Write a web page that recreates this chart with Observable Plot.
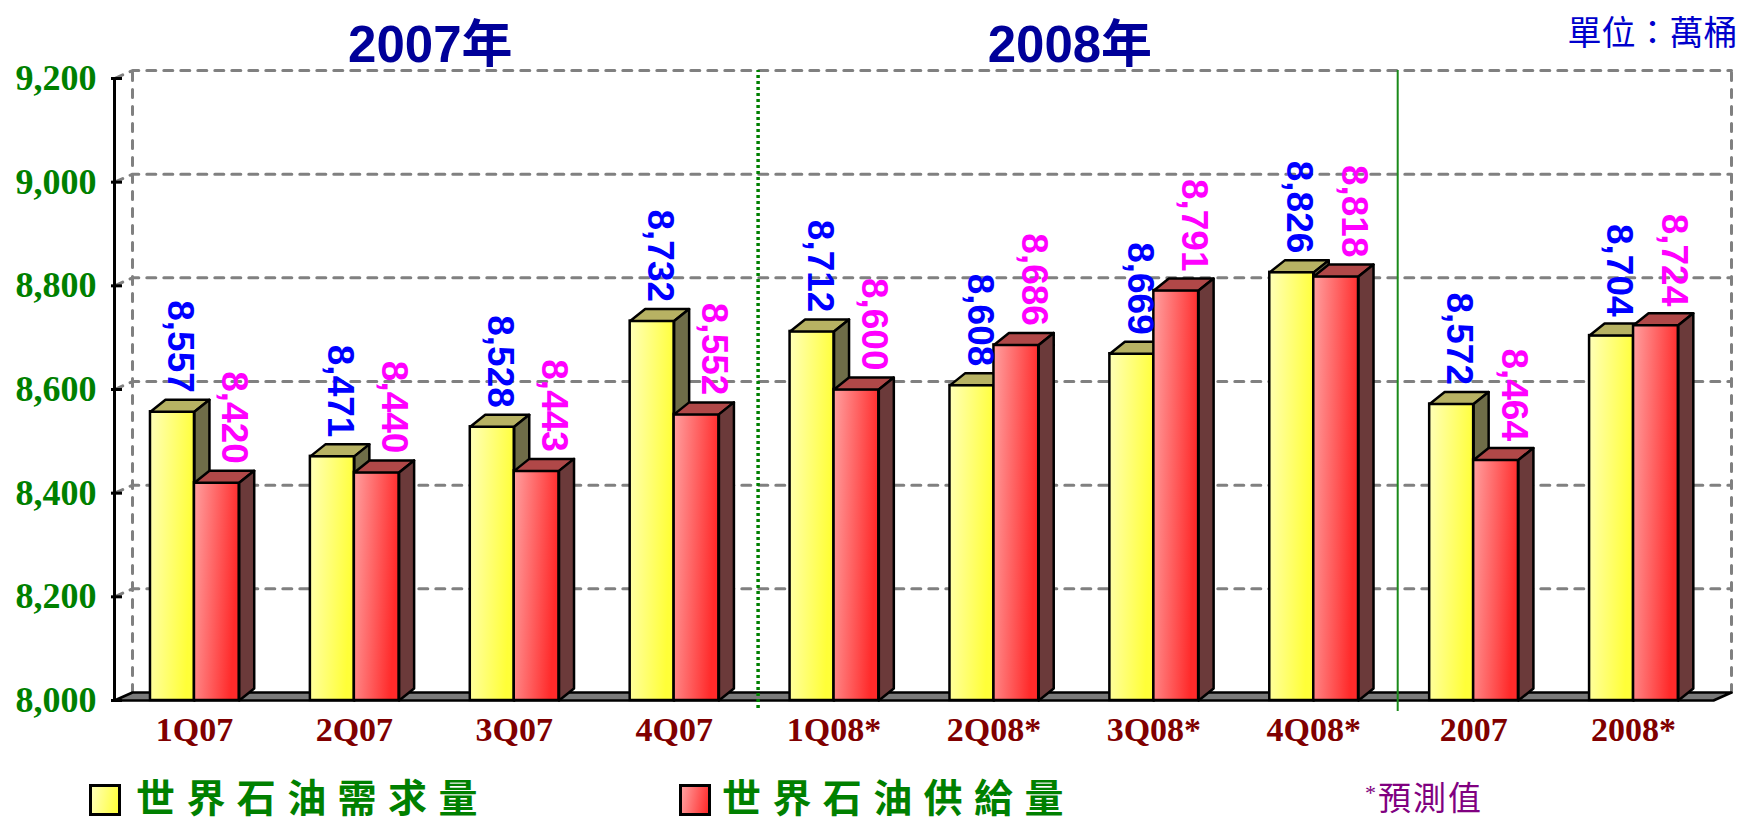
<!DOCTYPE html>
<html><head><meta charset="utf-8">
<script src="https://cdn.jsdelivr.net/npm/d3@7"></script>
<script src="https://cdn.jsdelivr.net/npm/@observablehq/plot@0.6"></script>
<style>
html,body{margin:0;padding:0;background:#fff;overflow:hidden;}
#wrap{position:relative;width:1743px;height:825px;}
#wrap svg{display:block;}
.leg{position:absolute;font-family:"Noto Sans CJK TC";white-space:nowrap;line-height:1;}
.sw{position:absolute;border:3px solid #000;box-sizing:border-box;}
</style></head><body><div id="wrap"></div>
<script>
// ---- data ----
const categories = ["1Q07","2Q07","3Q07","4Q07","1Q08*","2Q08*","3Q08*","4Q08*","2007","2008*"];
const demand = [8557,8471,8528,8732,8712,8608,8669,8826,8572,8704];
const supply = [8420,8440,8443,8552,8600,8686,8791,8818,8464,8724];
const yTicks = [8000,8200,8400,8600,8800,9000,9200];
const yearTitles = ["2007年","2008年"];
const yearSpans = [[0,4],[4,8]];
const seriesNames = ["世界石油需求量","世界石油供給量"];
const unitText = "單位：萬桶";
const noteText = "預測值";
const dividerAt = [4, 8];

// ---- layout ----
const W = 1743, H = 770, mL = 114, mR = 30, mT = 78, mB = 70;
const yMin = 8000, yMax = 9200;
const pxX = (W - mL - mR) / categories.length;
const pxY = (H - mT - mB) / (yMax - yMin);
const bdx = 15 / pxX, bdy = 12 / pxY;   // bar depth
const wdx = 18 / pxX, wdy = 8 / pxY;    // wall depth
const fmt = d3.format(",");

const yBars = demand.map((v, i) => ({i, x1: i + 0.225, x2: i + 0.5, v}));
const rBars = supply.map((v, i) => ({i, x1: i + 0.5, x2: i + 0.78, v}));

function polys(bars, kind) {
  const out = [];
  bars.forEach((b, k) => {
    const pts = kind === "top"
      ? [[b.x1, b.v], [b.x2, b.v], [b.x2 + bdx, b.v + bdy], [b.x1 + bdx, b.v + bdy]]
      : [[b.x2, yMin], [b.x2, b.v], [b.x2 + bdx, b.v + bdy], [b.x2 + bdx, yMin + bdy]];
    pts.forEach(([x, y]) => out.push({id: k, x, y}));
  });
  return out;
}

const gridPts = [];
yTicks.filter(v => v > yMin).forEach(v => {
  gridPts.push({id: v, x: 0, y: v}, {id: v, x: wdx, y: v + wdy}, {id: v, x: categories.length + wdx, y: v + wdy});
});
const wallEdges = [];
[wdx, categories.length + wdx].forEach((x, k) => {
  wallEdges.push({id: k, x, y: yMin + wdy}, {id: k, x, y: yMax + wdy});
});
const n = categories.length;
const floorPts = [[0, yMin], [n, yMin], [n + wdx, yMin + wdy], [wdx, yMin + wdy]].map(([x, y]) => ({x, y}));

const faceStyle = {x: "x", y: "y", z: "id", curve: "linear-closed", stroke: "#000", strokeWidth: 2.5};
const labelStyle = {rotate: 90, textAnchor: "end", dy: -19, fontSize: 37, fontWeight: "bold", fontFamily: "Liberation Sans, Arial, sans-serif"};

const svg = Plot.plot({
  width: W, height: H,
  marginLeft: mL, marginRight: mR, marginTop: mT, marginBottom: mB,
  x: {domain: [0, n]},
  y: {domain: [yMin, yMax]},
  style: {background: "#fff", overflow: "visible"},
  marks: [
    Plot.line(gridPts, {x: "x", y: "y", z: "id", stroke: "#808080", strokeWidth: 3, strokeDasharray: "9,8"}),
    Plot.line(wallEdges, {x: "x", y: "y", z: "id", stroke: "#808080", strokeWidth: 3, strokeDasharray: "8,9"}),
    Plot.line(floorPts, {x: "x", y: "y", curve: "linear-closed", fill: "#7a7a7a", stroke: "#000", strokeWidth: 2.5}),
    Plot.ruleX(dividerAt.slice(0, 1), {x: d => d, dx: 4, y1: yMin - 8 / pxY, y2: yMax + wdy, stroke: "#008000", strokeWidth: 3.5, strokeDasharray: "3,3"}),
    Plot.ruleX(dividerAt.slice(1), {x: d => d, dx: 4, y1: yMin - 11 / pxY, y2: yMax + wdy, stroke: "#1a8a1a", strokeWidth: 2}),
    Plot.ruleX([0], {y1: yMin, y2: yMax, stroke: "#000", strokeWidth: 3}),
    Plot.ruleY(yTicks, {x1: -3 / pxX, x2: 8 / pxX, stroke: "#000", strokeWidth: 3}),
    // demand bars
    Plot.rectY(yBars, {x1: "x1", x2: "x2", y1: yMin, y2: "v", fill: "url(#gy)", stroke: "#000", strokeWidth: 2.5}),
    Plot.line(polys(yBars, "top"), {...faceStyle, fill: "#b7b263"}),
    Plot.line(polys(yBars, "side"), {...faceStyle, fill: "#6f6d48"}),
    // supply bars
    Plot.rectY(rBars, {x1: "x1", x2: "x2", y1: yMin, y2: "v", fill: "url(#gr)", stroke: "#000", strokeWidth: 2.5}),
    Plot.line(polys(rBars, "top"), {...faceStyle, fill: "#b04848"}),
    Plot.line(polys(rBars, "side"), {...faceStyle, fill: "#6b3a3a"}),
    // value labels
    Plot.text(yBars, {...labelStyle, x: d => (d.x1 + d.x2) / 2 + bdx / 2, y: "v", text: d => fmt(d.v), fill: "#0000ff"}),
    Plot.text(rBars, {...labelStyle, x: d => (d.x1 + d.x2) / 2 + bdx / 2, y: "v", dx: 10, text: d => fmt(d.v), fill: "#ff00ff"}),
    // axes
    Plot.axisY({ticks: yTicks, tickFormat: d => fmt(d), tickSize: 0, tickPadding: 18, fontSize: 36, fontWeight: "bold",
      fontFamily: "Liberation Serif, Times New Roman, serif", color: "#008000", label: null}),
    Plot.axisX({ticks: categories.map((_, i) => i + 0.5), tickFormat: d => categories[Math.floor(d)], tickSize: 0, tickPadding: 16,
      fontSize: 34, fontWeight: "bold", fontFamily: "Liberation Serif, Times New Roman, serif", color: "#800000", label: null}),
    // titles
    Plot.text(yearTitles, {x: (d, i) => (yearSpans[i][0] + yearSpans[i][1]) / 2, y: yMax, dx: -4, dy: -17, lineAnchor: "bottom",
      text: d => d, fontSize: 51, fontWeight: "bold", fill: "#000099", fontFamily: "Liberation Sans, Noto Sans CJK TC, sans-serif"}),
    Plot.text([unitText], {frameAnchor: "top-right", dx: 24, dy: -34, textAnchor: "end", lineAnchor: "bottom",
      text: d => d, fontSize: 34, fill: "#0000cc", fontFamily: "Noto Sans CJK TC"})
  ]
});

// gradients for bar front faces
const defs = d3.select(svg).insert("defs", ":first-child");
[["gy", "#ffffb8", "#ffff38"], ["gr", "#ffa0a0", "#ff2a2a"]].forEach(([id, a, b]) => {
  const g = defs.append("linearGradient").attr("id", id).attr("x1", 0).attr("y1", 0).attr("x2", 1).attr("y2", 0.25);
  g.append("stop").attr("offset", "0%").attr("stop-color", a);
  g.append("stop").attr("offset", "100%").attr("stop-color", b);
});

const wrap = document.getElementById("wrap");
wrap.appendChild(svg);

// legend below the chart
const legend = [
  {sw: 89, tx: 136, grad: "linear-gradient(100deg,#ffffb8,#ffff38)", name: seriesNames[0]},
  {sw: 679, tx: 722, grad: "linear-gradient(100deg,#ffa0a0,#ff2a2a)", name: seriesNames[1]}
];
legend.forEach(l => {
  const s = document.createElement("div");
  s.className = "sw";
  Object.assign(s.style, {left: l.sw + "px", top: "784px", width: "32px", height: "32px", background: l.grad});
  wrap.appendChild(s);
  const t = document.createElement("div");
  t.className = "leg";
  t.textContent = l.name;
  Object.assign(t.style, {left: l.tx + "px", top: "776px", fontSize: "39px", letterSpacing: "11.4px", color: "#008000", fontWeight: "700"});
  wrap.appendChild(t);
});
const note = document.createElement("div");
note.className = "leg";
note.innerHTML = '<span style="font-family:Liberation Serif,serif;font-size:22px;vertical-align:top;position:relative;top:2px">*</span>' + noteText;
Object.assign(note.style, {left: "1365px", top: "780px", fontSize: "33px", letterSpacing: "2px", color: "#800080"});
wrap.appendChild(note);
</script></body></html>
